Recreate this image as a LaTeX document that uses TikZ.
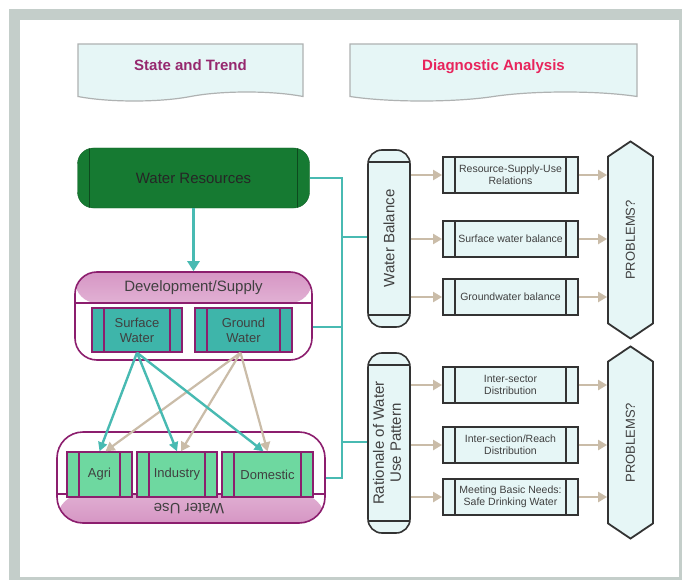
\documentclass[tikz,border=0pt]{standalone}
\usepackage{fontspec}
\setmainfont{Liberation Sans}
\usepackage{tikz}
\usetikzlibrary{arrows.meta, shapes.symbols}
\definecolor{framegrey}{RGB}{196,206,202}
\definecolor{paleblue}{RGB}{230,246,246}
\definecolor{bannerline}{RGB}{175,178,178}
\definecolor{trendtext}{RGB}{150,40,110}
\definecolor{diagtext}{RGB}{232,36,92}
\definecolor{resgreen}{RGB}{22,122,50}
\definecolor{plum}{RGB}{140,30,110}
\definecolor{pinkdark}{RGB}{214,150,196}
\definecolor{pinklight}{RGB}{246,226,240}
\definecolor{tealfill}{RGB}{62,181,170}
\definecolor{mintfill}{RGB}{110,216,160}
\definecolor{teal}{RGB}{72,186,178}
\definecolor{tan}{RGB}{202,188,168}
\tikzset{
    box/.style={draw, inner sep=0pt, align=center},
    big/.style={font=\fontsize{15}{17}\selectfont, text=black!75},
    mid/.style={font=\fontsize{13}{15}\selectfont, text=black!75},
    small/.style={font=\fontsize{10.5}{12}\selectfont, text=black!75},
    sidebars/.style={path picture={
        \draw[#1] ([xshift=12pt]path picture bounding box.north west) -- ([xshift=12pt]path picture bounding box.south west)
                  ([xshift=-12pt]path picture bounding box.north east) -- ([xshift=-12pt]path picture bounding box.south east);}},
    caps/.style={path picture={
        \draw[#1] ([yshift=-12pt]path picture bounding box.north west) -- ([yshift=-12pt]path picture bounding box.north east)
                  ([yshift=12pt]path picture bounding box.south west) -- ([yshift=12pt]path picture bounding box.south east);}},
    banner/.style={draw=bannerline, line width=1.2pt, fill=paleblue, tape, tape bend top=none,
        tape bend bottom=in and out, tape bend height=9pt, minimum width=225pt, minimum height=57pt,
        font=\bfseries\fontsize{15}{17}\selectfont},
    resource/.style={box, big, fill=resgreen, draw=resgreen!80!black, rounded corners=16pt,
        minimum width=232pt, minimum height=60pt, text=black!85, sidebars={resgreen!60!black, line width=0.8pt}},
    supply/.style={box, draw=plum, line width=1.6pt, rounded corners=22pt, minimum width=237pt, minimum height=88pt,
        path picture={
        \shade[top color=pinkdark, bottom color=pinklight] (path picture bounding box.north west) rectangle ([yshift=-31pt]path picture bounding box.north east);
        \draw[plum, line width=1.2pt] ([yshift=-31pt]path picture bounding box.north west) -- ([yshift=-31pt]path picture bounding box.north east);}},
    wateruse/.style={box, draw=plum, line width=1.6pt, rounded corners=26pt, minimum width=268pt, minimum height=91pt,
        path picture={
        \shade[top color=pinklight, bottom color=pinkdark] ([yshift=29pt]path picture bounding box.south west) rectangle (path picture bounding box.south east);
        \draw[plum, line width=1.2pt] ([yshift=29pt]path picture bounding box.south west) -- ([yshift=29pt]path picture bounding box.south east);}},
    source/.style={box, mid, fill=tealfill, draw=plum, line width=1.4pt, minimum width=90pt, minimum height=44pt,
        sidebars={plum, line width=1.4pt}},
    sector/.style={box, mid, fill=mintfill, draw=plum, line width=1.4pt, minimum height=45pt,
        sidebars={plum, line width=1.4pt}},
    cylinder/.style={box, big, fill=paleblue, draw=black!80, line width=1.6pt, rounded corners=14pt,
        minimum width=42pt, caps={black!80, line width=1.4pt}},
    check/.style={box, small, fill=paleblue, draw=black!80, line width=1.8pt, minimum width=135pt, minimum height=36pt,
        sidebars={black!80, line width=1.5pt}},
    problem/.style={box, mid, fill=paleblue, draw=black!80, line width=1.8pt, signal, signal to=north and south,
        signal pointer angle=112, minimum width=45pt},
    bus/.style={draw=teal, line width=2pt},
    feed/.style={draw=teal, line width=3.5pt, -{Triangle[length=10pt, width=12pt]}},
    tealflow/.style={draw=teal, line width=2.4pt, -{Triangle[length=9pt, width=9pt]}},
    tanflow/.style={draw=tan, line width=2.2pt, -{Triangle[length=9pt, width=10pt]}}
}

\begin{document}
\begin{tikzpicture}[x=1pt, y=-1pt]
    \useasboundingbox (0,0) rectangle (682,580);
    \fill[framegrey] (9,9) rectangle (682,580);
    \fill[white] (20,20) rectangle (679,577);

    \node[banner, text=trendtext] (trend) at (190.5,68) {\raisebox{5pt}{State and Trend}};
    \node[banner, text=diagtext, minimum width=287pt] (diag) at (493.5,68) {\raisebox{5pt}{Diagnostic Analysis}};

    \node[resource] (wr) at (193.5,178) {Water Resources};
    \node[supply] (dev) at (193.5,316) {};
    \node[big] (devtitle) at (193.5,288) {Development/Supply};
    \node[source] (sw) at (137,330) {Surface\\Water};
    \node[source, minimum width=97pt] (gw) at (243.5,330) {Ground\\Water};

    \node[wateruse] (use) at (191,477.5) {};
    \node[big] (usetitle) at (189,509) {\rotatebox{180}{Water Use}};
    \node[sector, minimum width=65pt] (agri) at (99.5,474.5) {Agri};
    \node[sector, minimum width=80pt] (ind) at (177,474.5) {Industry};
    \node[sector, minimum width=91pt] (dom) at (267.5,474.5) {Domestic};

    \node[cylinder, minimum height=177pt] (wb) at (389,238.5) {\rotatebox{90}{Water Balance}};
    \node[cylinder, minimum height=180pt] (rat) at (389,443)
        {\rotatebox{90}{\begin{tabular}{@{}c@{}}Rationale of Water\\Use Pattern\end{tabular}}};

    \node[check] (b1) at (510.5,175) {Resource-Supply-Use\\Relations};
    \node[check] (b2) at (510.5,239) {Surface water balance};
    \node[check] (b3) at (510.5,297) {Groundwater balance};
    \node[check] (b4) at (510.5,385) {Inter-sector\\Distribution};
    \node[check] (b5) at (510.5,445) {Inter-section/Reach\\Distribution};
    \node[check] (b6) at (510.5,497) {Meeting Basic Needs:\\Safe Drinking Water};

    \node[problem, minimum height=173pt] (p1) at (630.5,240) {\rotatebox{90}{PROBLEMS?}};
    \node[problem, minimum height=168pt] (p2) at (630.5,442.5) {\rotatebox{90}{PROBLEMS?}};

    \coordinate (j1) at (342,237);
    \coordinate (j2) at (342,442);
    \draw[bus] (wr.east) -| (j1) -- (j1 -| wb.west);
    \draw[bus] ([yshift=-11pt]dev.east) -- ([yshift=-11pt]dev.east -| j1);
    \draw[bus] (use.east) -| (j2) -- (j2 -| rat.west);
    \draw[bus] (j1) -- (j2);

    \draw[feed] (wr.south) -- (dev.north);

    \draw[tanflow] ([xshift=-3pt]gw.south) -- ([xshift=6pt]agri.north);
    \draw[tanflow] ([xshift=-3pt]gw.south) -- ([xshift=4pt]ind.north);
    \draw[tanflow] ([xshift=-3pt]gw.south) -- (dom.north);
    \draw[tealflow] (sw.south) -- (agri.north);
    \draw[tealflow] (sw.south) -- (ind.north);
    \draw[tealflow] (sw.south) -- ([xshift=-4pt]dom.north);

    \foreach \b/\p in {b1/p1, b2/p1, b3/p1, b4/p2, b5/p2, b6/p2} {
        \draw[tanflow] (\b.west -| wb.east) -- (\b.west);
        \draw[tanflow] (\b.east) -- (\b.east -| \p.west);
    }
\end{tikzpicture}
\end{document}
